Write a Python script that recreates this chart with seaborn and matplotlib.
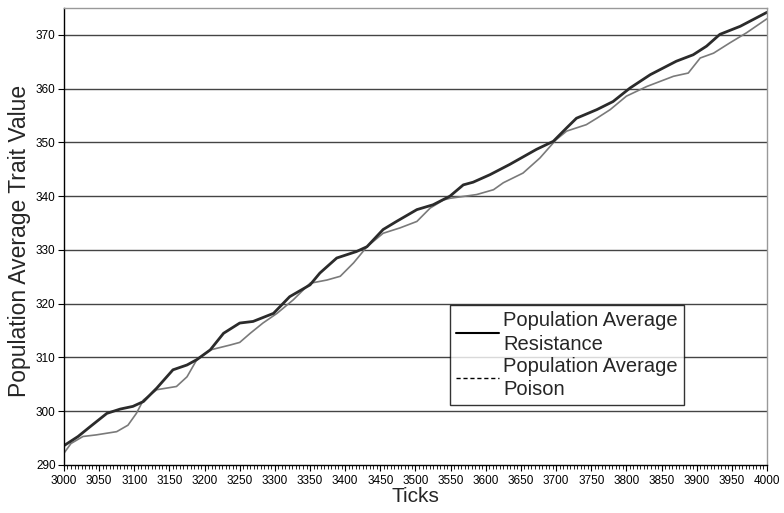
import pandas as pd
import matplotlib.pyplot as plt
import seaborn as sns
from matplotlib.lines import Line2D
from matplotlib.ticker import MultipleLocator

# Population average resistance
res_ticks = [3000, 3020, 3037, 3061, 3080, 3098, 3113, 3132, 3155, 3175, 3189,
             3208, 3227, 3250, 3269, 3298, 3321, 3350, 3364, 3388, 3416, 3431,
             3454, 3473, 3502, 3525, 3549, 3568, 3582, 3606, 3634, 3672, 3696,
             3715, 3729, 3758, 3781, 3805, 3834, 3871, 3895, 3914, 3933, 3962,
             3981, 4000]
res_values = [293.6, 295.3, 297.1, 299.6, 300.4, 300.9, 301.8, 304.3, 307.7,
              308.6, 309.6, 311.4, 314.5, 316.4, 316.7, 318.2, 321.3, 323.5,
              325.7, 328.5, 329.7, 330.6, 333.8, 335.3, 337.5, 338.4, 340.0,
              342.1, 342.6, 344.0, 345.9, 348.7, 350.2, 352.7, 354.5, 356.1,
              357.6, 360.1, 362.6, 365.1, 366.3, 367.9, 370.1, 371.6, 372.9,
              374.2]

# Population average poison
poi_ticks = [3000, 3010, 3027, 3046, 3075, 3091, 3103, 3113, 3132, 3160, 3175,
             3189, 3208, 3236, 3250, 3265, 3283, 3303, 3326, 3350, 3374, 3393,
             3412, 3431, 3454, 3478, 3502, 3521, 3540, 3549, 3587, 3611, 3625,
             3653, 3677, 3700, 3715, 3743, 3758, 3777, 3800, 3829, 3867, 3888,
             3905, 3924, 3947, 3971, 4000]
poi_values = [292.2, 294.0, 295.3, 295.6, 296.2, 297.4, 299.6, 302.1, 304.0,
              304.6, 306.4, 309.6, 311.4, 312.3, 312.8, 314.5, 316.4, 318.2,
              320.7, 323.8, 324.4, 325.1, 327.6, 330.6, 333.1, 334.1, 335.3,
              337.8, 339.3, 339.6, 340.3, 341.2, 342.5, 344.3, 347.1, 350.5,
              352.1, 353.3, 354.5, 356.1, 358.6, 360.4, 362.3, 362.9, 365.7,
              366.6, 368.5, 370.4, 373.0]

sns.set_style("white")
plt.rcParams["font.family"] = ["Liberation Sans", "DejaVu Sans"]

res_df = pd.DataFrame({"Ticks": res_ticks, "Value": res_values})
poi_df = pd.DataFrame({"Ticks": poi_ticks, "Value": poi_values})

fig = plt.figure(figsize=(7.84, 5.13), dpi=100)
ax = fig.add_axes([0.0816, 0.0936, 0.8967, 0.8908])

for y in range(300, 371, 10):
    ax.axhline(y, color="#444444", lw=1.0, zorder=0)

sns.lineplot(data=poi_df, x="Ticks", y="Value", ax=ax, color="#7a7a7a", lw=1.2)
sns.lineplot(data=res_df, x="Ticks", y="Value", ax=ax, color="#2b2b2b", lw=2.0)

ax.set_xlim(3000, 4000)
ax.set_ylim(290, 375)
ax.xaxis.set_major_locator(MultipleLocator(50))
ax.xaxis.set_minor_locator(MultipleLocator(5))
ax.set_yticks(range(290, 371, 10))

tick_font = ["Liberation Sans Narrow", "Liberation Sans"]
for lab in ax.get_xticklabels() + ax.get_yticklabels():
    lab.set_family(tick_font)
    lab.set_fontsize(8.5)

ax.tick_params(axis="x", which="major", direction="out", length=4, width=0.8,
               pad=3, colors="black")
ax.tick_params(axis="x", which="minor", direction="out", length=3, width=0.6,
               colors="black")
ax.tick_params(axis="y", which="major", direction="out", length=4, width=0.8,
               pad=2, colors="black")
ax.tick_params(bottom=True, left=True, which="both")

for side in ["left", "bottom"]:
    ax.spines[side].set_color("black")
    ax.spines[side].set_linewidth(1.0)
for side in ["top", "right"]:
    ax.spines[side].set_color("#999999")
    ax.spines[side].set_linewidth(1.0)

ax.set_xlabel("Ticks", fontsize=15, labelpad=0)
ax.set_ylabel("Population Average Trait Value", fontsize=16.5)
ax.yaxis.set_label_coords(-0.047, 0.49)

handles = [
    Line2D([], [], color="black", lw=1.5),
    Line2D([], [], color="black", lw=1.0, ls=(0, (3, 2))),
]
labels = ["Population Average\nResistance", "Population Average\nPoison"]
leg = ax.legend(handles, labels, loc="upper left", bbox_to_anchor=(0.549, 0.35),
                borderaxespad=0, fontsize=14.5, frameon=True, fancybox=False,
                handlelength=2.15, handletextpad=0.2, labelspacing=0.15,
                borderpad=0.3)
leg.get_frame().set_edgecolor("black")
leg.get_frame().set_linewidth(1.0)
for t in leg.get_texts():
    t.set_linespacing(1.3)

plt.savefig("out.png", dpi=100)
plt.close()
